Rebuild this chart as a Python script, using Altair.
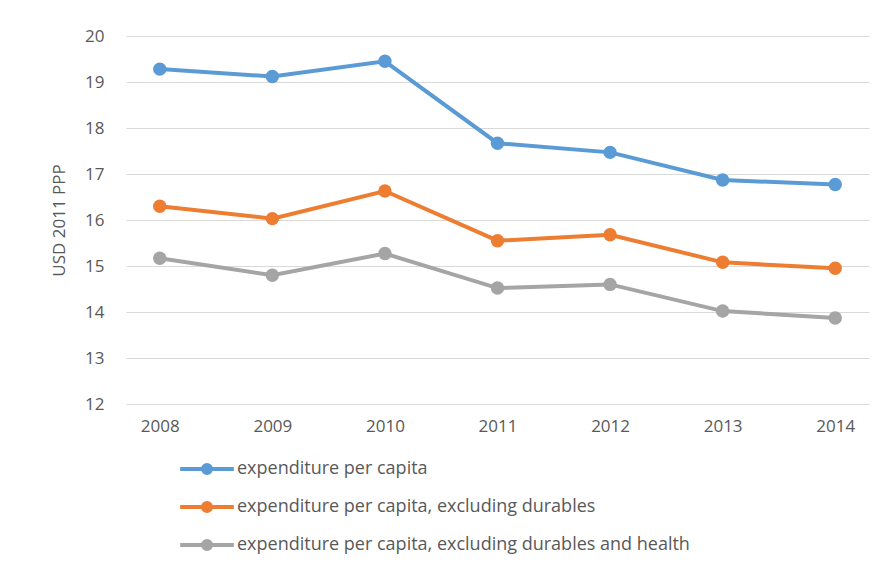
import altair as alt
import pandas as pd

years = ["2008", "2009", "2010", "2011", "2012", "2013", "2014"]
series = [
    "expenditure per capita",
    "expenditure per capita, excluding durables",
    "expenditure per capita, excluding durables and health",
]
total = [19.28, 19.12, 19.45, 17.67, 17.47, 16.87, 16.77]
no_durables = [16.30, 16.03, 16.63, 15.55, 15.68, 15.08, 14.95]
no_dur_health = [15.17, 14.80, 15.27, 14.52, 14.60, 14.02, 13.87]
colors = ["#5B9BD5", "#ED7D31", "#A5A5A5"]

rows = []
for name, vals in zip(series, [total, no_durables, no_dur_health]):
    for y, v in zip(years, vals):
        rows.append({"year": y, "value": v, "series": name})
df = pd.DataFrame(rows)

# line with a dot, like the Excel legend key
sym = "M-4,0H4M0.6,0A0.6,0.6 0 1,1 -0.6,0A0.6,0.6 0 1,1 0.6,0Z"

base = alt.Chart(df).encode(
    x=alt.X("year:O", title=None, scale=alt.Scale(padding=0.3),
            axis=alt.Axis(labelAngle=0, labelFontSize=17, labelColor="#595959",
                          domain=False, ticks=False, labelPadding=14)),
    y=alt.Y("value:Q", title="USD 2011 PPP",
            scale=alt.Scale(domain=[12, 20], nice=False, zero=False),
            axis=alt.Axis(values=list(range(12, 21)), labelFontSize=17, labelColor="#595959",
                          titleFontSize=17, titleColor="#595959", titleFontWeight="normal",
                          domain=False, ticks=False, gridColor="#D9D9D9", labelPadding=22,
                          titlePadding=16)),
    color=alt.Color("series:N", sort=series,
                    scale=alt.Scale(domain=series, range=colors),
                    legend=alt.Legend(title=None, orient="none", legendX=72, legendY=424,
                                      symbolType=sym, symbolSize=180, symbolStrokeWidth=4,
                                      labelFontSize=18, labelColor="#595959", labelOffset=21,
                                      rowPadding=12, labelLimit=700)),
)

chart = (base.mark_line(strokeWidth=4) + base.mark_circle(size=180, opacity=1)).properties(
    width=743, height=368,
    padding={"left": 118, "top": 28, "right": 10, "bottom": 160},
    autosize=alt.AutoSizeParams(type="none"),
).configure(font="Open Sans", view=alt.ViewConfig(stroke=None))

chart.save("out.html", embed_options={"renderer": "svg", "actions": False})
